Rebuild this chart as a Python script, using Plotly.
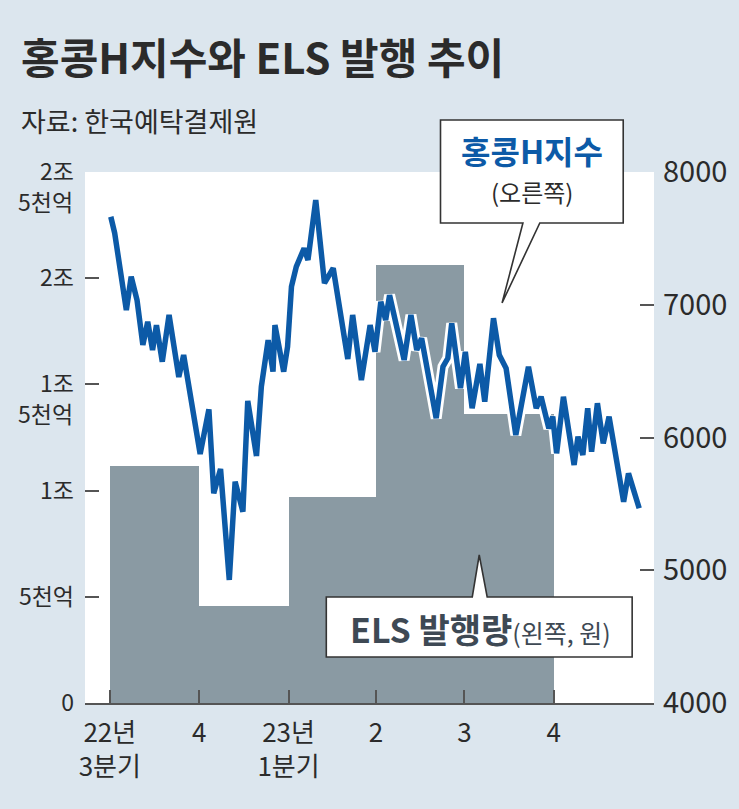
import plotly.graph_objects as go
import pandas as pd

# ---------------- data ----------------
quarter_starts = ["2022-07-01", "2022-10-01", "2023-01-01", "2023-04-01", "2023-07-01", "2023-10-01"]
quarter_labels = ["22년<br>3분기", "4", "23년<br>1분기", "2", "3", "4"]
els_issue = [11160, 4570, 9700, 20620, 13590]  # 억원, ELS 발행량 per quarter

hsi_dates = [
    "2022-07-02", "2022-07-06", "2022-07-18", "2022-07-23", "2022-07-29", "2022-08-04",
    "2022-08-09", "2022-08-14", "2022-08-18", "2022-08-24", "2022-08-31", "2022-09-10",
    "2022-09-15", "2022-10-02", "2022-10-11", "2022-10-16", "2022-10-23", "2022-11-01",
    "2022-11-07", "2022-11-15", "2022-11-20", "2022-11-29", "2022-12-04", "2022-12-11",
    "2022-12-16", "2022-12-18", "2022-12-27", "2022-12-31", "2023-01-04", "2023-01-09",
    "2023-01-17", "2023-01-21", "2023-01-29", "2023-02-07", "2023-02-16", "2023-03-03",
    "2023-03-08", "2023-03-17", "2023-03-26", "2023-03-31", "2023-04-06", "2023-04-11",
    "2023-04-15", "2023-04-30", "2023-05-07", "2023-05-13", "2023-05-18", "2023-06-02",
    "2023-06-09", "2023-06-14", "2023-06-18", "2023-06-27", "2023-07-02", "2023-07-09",
    "2023-07-17", "2023-07-22", "2023-07-31", "2023-08-06", "2023-08-13", "2023-08-23",
    "2023-09-05", "2023-09-13", "2023-09-18", "2023-09-26", "2023-09-30", "2023-10-04",
    "2023-10-11", "2023-10-22", "2023-10-26", "2023-10-31", "2023-11-05", "2023-11-09",
    "2023-11-15", "2023-11-21", "2023-11-27", "2023-12-12", "2023-12-17", "2023-12-28",
]
hsi_values = [
    7663, 7540, 6960, 7211, 7036, 6697,
    6872, 6659, 6847, 6571, 6923, 6456,
    6621, 5876, 6212, 5580, 5763, 4927,
    5667, 5441, 6275, 5861, 6383, 6734,
    6496, 6847, 6496, 6684, 7136, 7287,
    7425, 7337, 7789, 7162, 7275, 6591,
    6923, 6433, 6847, 6646, 7023, 6885,
    7073, 6584, 6923, 6659, 6747, 6145,
    6533, 6597, 6860, 6371, 6646, 6220,
    6554, 6270, 6898, 6621, 6521, 6019,
    6533, 6220, 6307, 6069, 6157, 5881,
    6307, 5793, 6006, 5868, 6220, 5893,
    6258, 5956, 6157, 5516, 5730, 5467,
]

left_tickvals = [0, 5000, 10000, 15000, 20000, 25000]
left_ticktext = ["0", "5천억", "1조", "1조", "2조", "2조"]
left_second_line = {15000: "5천억", 25000: "5천억"}  # second line of the two-line tick labels
right_tickvals = [4000, 5000, 6000, 7000, 8000]
right_ticktext = ["4000", "5000", "6000", "7000", "8000"]

# ---------------- styles ----------------
BG = "#dce6ee"
BAR = "#8a9aa3"
BLUE = "#0c5aa7"
TXT = "#2b2b2b"
AX = "#555555"
NUM_FONT = "Liberation Sans Narrow, Noto Sans CJK KR, sans-serif"
KR_FONT = "Noto Sans CJK KR, sans-serif"

W, H = 739, 809
L, R, T, B = 85, 658, 172, 703


def px(x):
    return (x - L) / (R - L)


def py(y):
    return (B - y) / (B - T)


qs = pd.to_datetime(quarter_starts)
bar_x = list(qs[:-1])
bar_w = [(qs[i + 1] - qs[i]).total_seconds() * 1000 for i in range(len(qs) - 1)]

fig = go.Figure()
fig.add_trace(go.Bar(
    x=bar_x, y=els_issue, width=bar_w, offset=0,
    marker=dict(color=BAR, line=dict(width=0)),
    yaxis="y", showlegend=False, hoverinfo="skip",
))
fig.add_trace(go.Scatter(
    x=hsi_dates, y=hsi_values, mode="lines",
    line=dict(color="white", width=11),
    yaxis="y2", showlegend=False, hoverinfo="skip",
))
fig.add_trace(go.Scatter(
    x=hsi_dates, y=hsi_values, mode="lines",
    line=dict(color=BLUE, width=5.5),
    yaxis="y2", showlegend=False,
))

x_start = pd.Timestamp("2022-07-01")
days_per_px = 457 / 447.0
x_range = [x_start + pd.Timedelta(days=(L - 110) * days_per_px),
           x_start + pd.Timedelta(days=(R - 110) * days_per_px)]

fig.update_layout(
    width=W, height=H,
    margin=dict(l=L, r=W - R, t=T, b=H - B, pad=0),
    paper_bgcolor=BG, plot_bgcolor="white",
    bargap=0,
    showlegend=False,
    xaxis=dict(
        type="date", range=x_range,
        tickvals=quarter_starts, ticktext=quarter_labels,
        ticks="inside", ticklen=13, tickwidth=1.5, tickcolor=AX,
        showline=True, linecolor=AX, linewidth=1.5,
        showgrid=False, zeroline=False,
        tickfont=dict(family=NUM_FONT, size=26, color=TXT),
        ticklabelstandoff=6,
    ),
    yaxis=dict(
        range=[0, 25000], tickvals=left_tickvals, ticktext=left_ticktext,
        ticks="inside", ticklen=14, tickwidth=1.5, tickcolor=AX,
        showline=False, showgrid=False, zeroline=False,
        tickfont=dict(family=NUM_FONT, size=23, color=TXT),
        ticklabelstandoff=10,
    ),
    yaxis2=dict(
        range=[4000, 8000], tickvals=right_tickvals, ticktext=right_ticktext,
        overlaying="y", side="right",
        ticks="inside", ticklen=14, tickwidth=1.5, tickcolor=AX,
        showline=False, showgrid=False, zeroline=False,
        tickfont=dict(family=NUM_FONT, size=29, color=TXT),
        ticklabelstandoff=8,
    ),
)

# callout boxes (pixel outlines converted to paper coords)
def path(points):
    s = "M " + " L ".join(f"{px(x):.5f},{py(y):.5f}" for x, y in points) + " Z"
    return s

box1 = [(443, 120), (627, 120), (627, 223), (543, 223), (505, 303), (526, 223), (443, 223)]
box2 = [(328, 597), (475, 597), (482, 555), (490, 597), (636, 597), (636, 657), (328, 657)]
for pts in (box1, box2):
    fig.add_shape(type="path", path=path(pts), xref="paper", yref="paper",
                  fillcolor="white", line=dict(color="#333333", width=1.6), layer="above")

ann = []
# second lines of the two-line left tick labels, placed on the left axis scale
for val, txt in left_second_line.items():
    ann.append(dict(x=0, y=val, xref="paper", yref="y", xanchor="right", yanchor="middle",
                    xshift=-10, yshift=-29, text=txt, showarrow=False,
                    font=dict(family=NUM_FONT, size=23, color=TXT)))
ann.append(dict(x=px(19), y=py(56), xref="paper", yref="paper", xanchor="left", yanchor="middle",
                text="<b>홍콩H지수와 ELS 발행 추이</b>", showarrow=False,
                font=dict(family=KR_FONT, size=42, color=TXT)))
ann.append(dict(x=px(19), y=py(120), xref="paper", yref="paper", xanchor="left", yanchor="middle",
                text="자료: 한국예탁결제원", showarrow=False,
                font=dict(family=KR_FONT, size=27, color=TXT)))
ann.append(dict(x=px(535), y=py(150), xref="paper", yref="paper", xanchor="center", yanchor="middle",
                text="<b>홍콩H지수</b>", showarrow=False,
                font=dict(family=KR_FONT, size=32, color=BLUE)))
ann.append(dict(x=px(535), y=py(192), xref="paper", yref="paper", xanchor="center", yanchor="middle",
                text="(오른쪽)", showarrow=False,
                font=dict(family=KR_FONT, size=24, color=TXT)))
ann.append(dict(x=px(483), y=py(628), xref="paper", yref="paper", xanchor="center", yanchor="middle",
                text="<b>ELS 발행량</b><span style='font-size:25px'>(왼쪽, 원)</span>", showarrow=False,
                font=dict(family=KR_FONT, size=34, color="#3e4954")))
fig.update_layout(annotations=ann)

fig.write_html("out.html")
